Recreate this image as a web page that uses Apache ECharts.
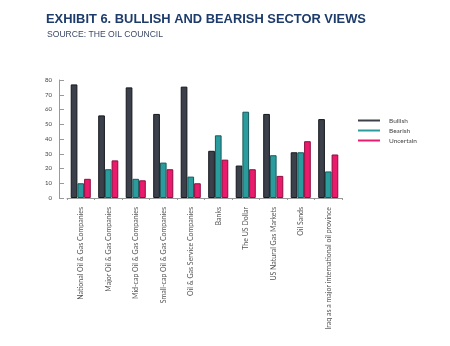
<!DOCTYPE html>
<html><head><meta charset="utf-8">
<script src="https://cdn.jsdelivr.net/npm/echarts@6/dist/echarts.min.js"></script>
<style>html,body{margin:0;padding:0;background:#fff}#c{width:450px;height:346px}</style>
</head><body><div id="c"></div>
<script>
const categories = ["National Oil & Gas Companies","Major Oil & Gas Companies","Mid-cap Oil & Gas Companies","Small-cap Oil & Gas Companies","Oil & Gas Service Companies","Banks","The US Dollar","US Natural Gas Markets","Oil Sands","Iraq as a major international oil province"];
const bullish = [77, 56, 75, 57, 75.5, 32, 22, 57, 31, 53.5];
const bearish = [10, 19.5, 13, 24, 14.5, 42.5, 58.5, 29, 31, 18];
const uncertain = [13, 25.5, 12, 19.5, 10, 26, 19.5, 15, 38.5, 29.5];
const yTicks = [0,10,20,30,40,50,60,70,80];

const chart = echarts.init(document.getElementById('c'), null, {renderer:'canvas'});
const labelFont = {fontFamily:'Lato, Arial, sans-serif', fontSize:6, color:'#444'};
function s(name, data, color, border){
  return {name, type:'bar', data, barGap:'0%', barCategoryGap:'27%',
    itemStyle:{color, borderColor:border, borderWidth:1}};
}
chart.setOption({
  animation:false,
  title:[
    {text:'EXHIBIT 6. BULLISH AND BEARISH SECTOR VIEWS', left:41, top:8,
     textStyle:{fontFamily:'Liberation Sans, Arial, sans-serif', fontWeight:'bold', fontSize:12.9, color:'#1d3c6c'}},
    {text:'SOURCE: THE OIL COUNCIL', left:42, top:25,
     textStyle:{fontFamily:'Liberation Sans, Arial, sans-serif', fontWeight:'normal', fontSize:8.6, color:'#3d4a66'}}
  ],
  legend:{orient:'vertical', left:353, top:112, itemWidth:22, itemHeight:2, itemGap:3,
    icon:'rect', itemStyle:{borderWidth:0},
    textStyle:{fontFamily:'Lato, Arial, sans-serif', fontSize:6.5, color:'#444', padding:[0,0,0,4]},
    data:['Bullish','Bearish','Uncertain']},
  grid:{left:67, right:108, top:80, bottom:148, containLabel:false},
  xAxis:{type:'category', data:categories,
    axisLine:{lineStyle:{color:'#999', width:1}},
    axisTick:{show:true, alignWithLabel:false, length:2, lineStyle:{color:'#999'}},
    axisLabel:{rotate:90, interval:0, margin:9, ...labelFont, fontSize:7, color:'#555'}},
  yAxis:{type:'value', min:0, max:80, interval:10, offset:8,
    axisLine:{show:true, lineStyle:{color:'#999'}},
    axisTick:{show:true, inside:true, length:5, lineStyle:{color:'#999'}},
    splitLine:{show:false},
    axisLabel:{margin:7, ...labelFont, formatter:v=>yTicks.includes(v)?String(v):''}},
  series:[
    s('Bullish', bullish, '#3b404b', '#15181d'),
    s('Bearish', bearish, '#2b9c9e', '#17595a'),
    s('Uncertain', uncertain, '#ea1a6c', '#8c0f3f')
  ]
});
</script></body></html>
